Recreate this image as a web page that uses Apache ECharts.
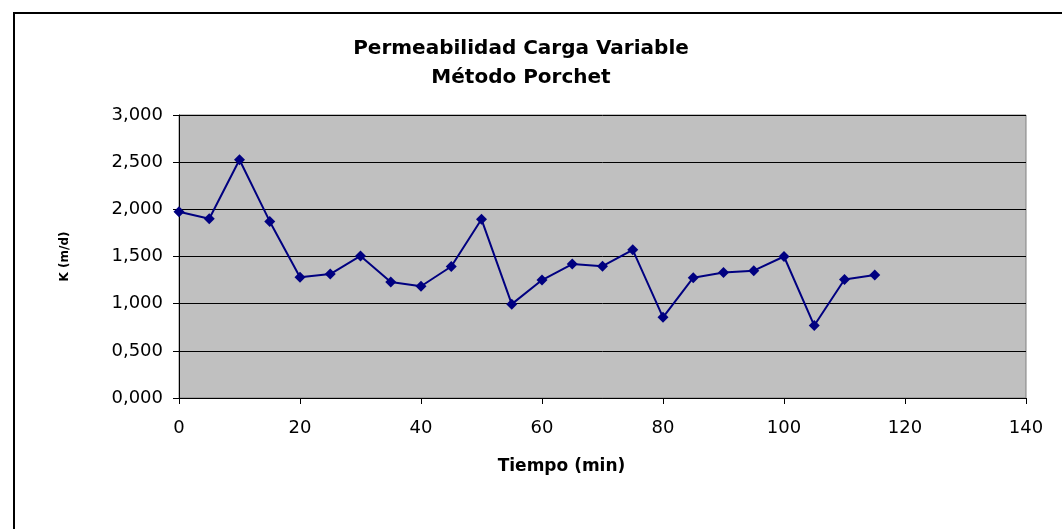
<!DOCTYPE html>
<html>
<head>
<meta charset="utf-8">
<script src="https://cdn.jsdelivr.net/npm/echarts@6/dist/echarts.min.js"></script>
<style>
  html, body { margin: 0; padding: 0; background: #fff; }
  #frame {
    position: absolute;
    left: 13px;
    top: 12px;
    width: 1049px;
    height: 517px;
    border-left: 2px solid #000;
    border-top: 2px solid #000;
  }
  #chart { position: absolute; left: 0; top: 0; width: 1062px; height: 529px; }
</style>
</head>
<body>
<div id="frame"></div>
<div id="chart"></div>
<script>
// tiempo (min)
const tiempo = [0, 5, 10, 15, 20, 25, 30, 35, 40, 45, 50, 55, 60, 65, 70, 75, 80, 85, 90, 95, 100, 105, 110, 115];
// K (m/d)
const permeabilidad = [1.975, 1.90, 2.525, 1.872, 1.28, 1.314, 1.506, 1.23, 1.185, 1.394, 1.894, 0.995, 1.25, 1.42, 1.397, 1.571, 0.855, 1.275, 1.33, 1.35, 1.50, 0.768, 1.256, 1.304];

const chartDom = document.getElementById('chart');
const myChart = echarts.init(chartDom);

const font = 'DejaVu Sans';

const option = {
  animation: false,
  title: {
    text: 'Permeabilidad Carga Variable\nMétodo Porchet',
    left: 516,
    top: 29,
    textAlign: 'center',
    textStyle: {
      fontFamily: font,
      fontSize: 20,
      fontWeight: 'bold',
      color: '#000',
      lineHeight: 29
    }
  },
  grid: {
    left: 179,
    right: 36,
    top: 115,
    bottom: 131,
    show: true,
    backgroundColor: '#c0c0c0',
    borderColor: '#808080',
    borderWidth: 1
  },
  xAxis: {
    type: 'value',
    min: 0,
    max: 140,
    interval: 20,
    name: 'Tiempo (min)',
    nameLocation: 'middle',
    nameGap: 60,
    nameTextStyle: {
      fontFamily: font,
      fontSize: 17,
      fontWeight: 'bold',
      color: '#000',
      padding: [0, 82, 0, 0]
    },
    axisLine: { show: true, lineStyle: { color: '#000', width: 1 } },
    axisTick: { show: true, inside: false, length: 6, lineStyle: { color: '#000' } },
    axisLabel: { fontFamily: font, fontSize: 18, color: '#000', margin: 21 },
    splitLine: { show: false }
  },
  yAxis: {
    type: 'value',
    min: 0,
    max: 3,
    interval: 0.5,
    name: 'K (m/d)',
    nameLocation: 'middle',
    nameGap: 108,
    nameTextStyle: { fontFamily: font, fontSize: 12, fontWeight: 'bold', color: '#000' },
    axisLine: { show: true, lineStyle: { color: '#000', width: 1 } },
    axisTick: { show: true, inside: false, length: 6, lineStyle: { color: '#000' } },
    axisLabel: {
      fontFamily: font,
      fontSize: 18,
      color: '#000',
      margin: 16,
      formatter: v => v.toFixed(3).replace('.', ',')
    },
    splitLine: { show: true, lineStyle: { color: '#000', width: 1 } }
  },
  series: [
    {
      name: 'K',
      type: 'line',
      data: tiempo.map((t, i) => [t, permeabilidad[i]]),
      symbol: 'diamond',
      symbolSize: 11,
      lineStyle: { color: '#000080', width: 2 },
      itemStyle: { color: '#000080' }
    }
  ]
};

myChart.setOption(option);
window.addEventListener('resize', () => myChart.resize());
</script>
</body>
</html>
